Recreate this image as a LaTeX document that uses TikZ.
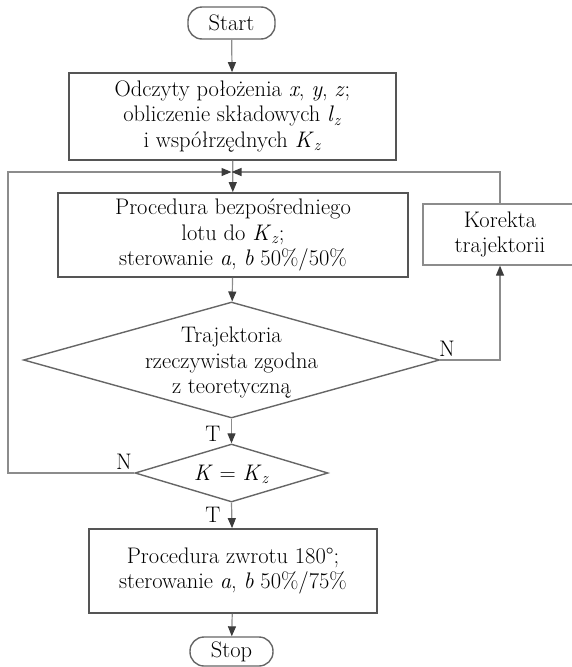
\documentclass[tikz,border=0pt]{standalone}
\usetikzlibrary{arrows.meta,shapes.geometric}
\definecolor{linegray}{HTML}{8C8C8C}
\definecolor{framegray}{HTML}{555555}
\definecolor{diagray}{HTML}{666666}
\definecolor{tipgray}{HTML}{3C3C3C}
\newcommand{\Kzsub}{\textit{K}\textsubscript{\textit{z}}}
\begin{document}
\begin{tikzpicture}[x=1pt,y=-1pt,
  every node/.style={font=\fontsize{22.5}{25.5}\selectfont, align=center, inner sep=0pt},
  procbox/.style={draw=framegray, line width=1.7pt, rectangle},
  sidebox/.style={draw=linegray, line width=1.3pt, rectangle},
  pill/.style={draw=diagray, line width=1.4pt, rectangle, rounded corners=14pt},
  decision/.style={draw=diagray, line width=1.4pt, diamond},
  conn/.style={draw=linegray, line width=1.2pt,
    -{Triangle[length=10pt,width=8pt,color=tipgray]}},
  lab/.style={inner sep=0pt}
]
\useasboundingbox (0,0) rectangle (572,667);

% terminals
\node[pill, minimum width=87pt, minimum height=32pt] (start) at (231.5,23) {Start};
\node[pill, minimum width=83pt, minimum height=29pt] (stop) at (231.5,651.5) {Stop};

% process blocks
\node[procbox, minimum width=327pt, minimum height=87pt] (read) at (232.5,116.5)
  {Odczyty położenia \textit{x}, \textit{y}, \textit{z};\\
   obliczenie składowych \textit{l}\textsubscript{\textit{z}}\\
   i współrzędnych \Kzsub};
\node[procbox, minimum width=350pt, minimum height=84pt] (fly) at (233,235)
  {Procedura bezpośredniego\\ lotu do \Kzsub;\\ sterowanie \textit{a}, \textit{b} 50\%/50\%};
\node[sidebox, minimum width=154pt, minimum height=61pt] (fix) at (500,234.5)
  {Korekta\\ trajektorii};
\node[procbox, minimum width=288pt, minimum height=84pt] (turn) at (233,571)
  {Procedura zwrotu 180°;\\ sterowanie \textit{a}, \textit{b} 50\%/75\%};

% decisions
\node[decision, minimum width=416pt, minimum height=116pt] (check) at (231.5,360) {};
\node (checktext) at (231.5,363) {Trajektoria\\ rzeczywista zgodna\\ z teoretyczną};
\node[decision, minimum width=193pt, minimum height=58pt] (goal) at (231.5,473) {};
\node (goaltext) at (231.5,474) {\textit{K} = \Kzsub};

% junction and loop corner
\coordinate (join) at (231.5,172);
\coordinate (loopcorner) at (8,172);

% connectors
\draw[conn] (start) -- (read);
\draw[conn] (read) -- (fly);
\draw[conn] (fly) -- (check);
\draw[conn] (check.south) -- (goal.north);
\draw[conn] (goal.south) -- (turn);
\draw[conn] (turn) -- (stop);
\draw[conn] (check.east) -| (fix.south);
\draw[conn] (fix.north) |- (join);
\draw[conn] (goal.west) -| (loopcorner) -- (join);

% branch labels
\node[lab] (nfix) at (447,349) {N};
\node[lab] (tgoal) at (213,434) {T};
\node[lab] (nloop) at (124,462) {N};
\node[lab] (tturn) at (213,515) {T};
\end{tikzpicture}
\end{document}
